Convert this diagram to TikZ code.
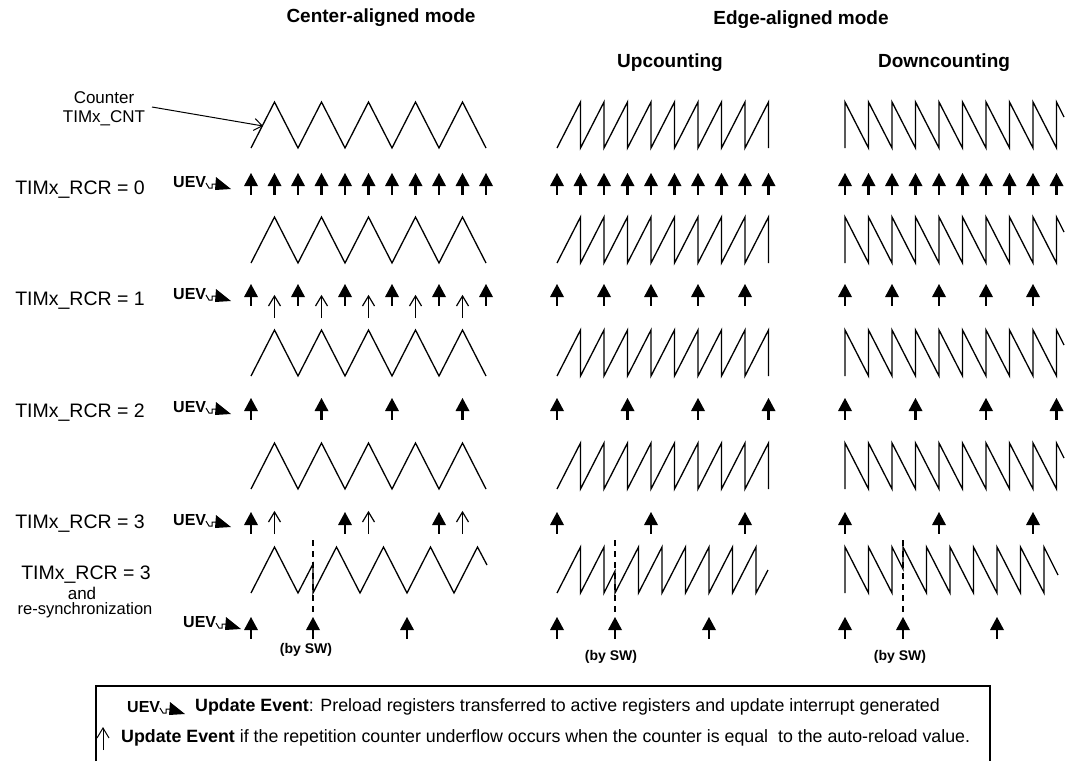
\documentclass[tikz,border=0pt]{standalone}
\usepackage{fontspec}
\setmainfont{Liberation Sans}
\usetikzlibrary{arrows.meta}
\begin{document}
\begin{tikzpicture}[x=1pt,y=-1pt,
  wave/.style={line width=1.3pt,line join=miter},
  ttl/.style={font=\fontsize{19}{22}\selectfont\bfseries},
  lbl/.style={font=\fontsize{19.5}{22}\selectfont},
  sw/.style={font=\fontsize{14}{16}\selectfont\bfseries},
  leg/.style={font=\fontsize{17.8}{20}\selectfont,anchor=west,inner sep=0pt}]
\useasboundingbox (0,0) rectangle (1068,761);
\newcommand{\farr}[2]{\fill (#1-7,#2+13) -- (#1+7,#2+13) -- (#1,#2) -- cycle;
  \draw[line width=2.2pt] (#1,#2+10) -- (#1,#2+22);}
\newcommand{\oarr}[2]{\draw[line width=1.2pt] (#1,#2+22) -- (#1,#2);
  \draw[line width=1.2pt] (#1-6,#2+10) -- (#1,#2) -- (#1+6,#2+10);}
\newcommand{\uevsym}[2]{\node[anchor=west,inner sep=0pt,font=\fontsize{16}{18}\selectfont\bfseries] at (#1,#2) {UEV};
  \draw[line width=1pt] (#1+33,#2+1) -- (#1+36,#2+6) -- (#1+39,#2+6) -- (#1+39,#2+2) -- (#1+43,#2+2);
  \fill (#1+43,#2-5) -- (#1+42,#2+8) -- (#1+58,#2+7) -- cycle;}
% titles
\node[ttl] at (381,18) {Center-aligned mode};
\node[ttl] at (801,20) {Edge-aligned mode};
\node[ttl] at (670,63) {Upcounting};
\node[ttl] at (944,63) {Downcounting};
% counter label
\node[font=\fontsize{17}{19}\selectfont] (cnt) at (104,98) {Counter};
\node[font=\fontsize{17}{19}\selectfont] (cnt2) at (104,118) {TIMx\_CNT};
\coordinate (cntend) at (263,126);
\draw[line width=1pt,-{Straight Barb[length=8pt,width=12pt]}] (152,107) -- (cntend);
% left labels
\node[lbl] at (80,190) {TIMx\_RCR = 0};
\node[lbl] at (80,301) {TIMx\_RCR = 1};
\node[lbl] at (80,413) {TIMx\_RCR = 2};
\node[lbl] at (80,524) {TIMx\_RCR = 3};
\node[lbl] at (86,575) {TIMx\_RCR = 3};
\node[font=\fontsize{17}{19}\selectfont] at (82,593) {and};
\node[font=\fontsize{16.5}{19}\selectfont] at (85,610) {re-synchronization};
% UEV labels
\uevsym{173}{182}
\uevsym{173}{294}
\uevsym{173}{407}
\uevsym{173}{520}
\uevsym{183}{622}
% regular waves rows 1-4
\foreach \T in {102,217,330,443}{
  \pgfmathsetmacro{\B}{\T+46}
  \draw[wave] (251,\B) foreach \k in {0,...,4}{ -- ({274.5+47*\k},\T) -- ({298+47*\k},\B) };
  \draw[wave] (557,\B) foreach \k in {0,...,8}{ -- ({580.5+23.5*\k},\T) -- ({580.5+23.5*\k},\B) };
  \draw[wave] (845,\B) -- (845,\T) foreach \k in {0,...,8}{ -- ({868.5+23.5*\k},\B) -- ({868.5+23.5*\k},\T) } -- (1064,\T+15);
}
% RCR=0 arrows
\foreach \k in {0,...,10}{ \farr{251+23.5*\k}{173} }
\foreach \k in {0,...,9}{ \farr{557+23.5*\k}{173} \farr{845+23.5*\k}{173} }
% RCR=1
\foreach \k in {0,...,5}{ \farr{251+47*\k}{284} }
\foreach \k in {0,...,4}{ \oarr{274.5+47*\k}{296} \farr{557+47*\k}{284} \farr{845+47*\k}{284} }
% RCR=2
\foreach \k in {0,...,3}{ \farr{251+70.5*\k}{398} \farr{557+70.5*\k}{398} \farr{845+70.5*\k}{398} }
% RCR=3
\foreach \k in {0,...,2}{ \farr{251+94*\k}{512} \oarr{274.5+94*\k}{512} \farr{557+94*\k}{512} \farr{845+94*\k}{512} }
% resync row
\draw[wave] (251,593) -- (274.5,547) -- (298,593) -- (313,564) -- (313,593)
  foreach \k in {0,...,2}{ -- ({336.5+47*\k},547) -- ({360+47*\k},593) } -- (477.5,547) -- (487,565);
\draw[wave] (557,593) -- (580.5,547) -- (580.5,593) -- (604,547) -- (604,593) -- (615,571) -- (615,593)
  foreach \k in {0,...,5}{ -- ({638.5+23.5*\k},547) -- ({638.5+23.5*\k},593) } -- (768,570);
\draw[wave] (845,593) -- (845,547) -- (868.5,593) -- (868.5,547) -- (892,593) -- (892,547) -- (903,569) -- (903,547)
  foreach \k in {0,...,5}{ -- ({926.5+23.5*\k},593) -- ({926.5+23.5*\k},547) } -- (1058,575);
\foreach \x in {313,615,903}{ \draw[line width=1.5pt,dash pattern=on 6pt off 5pt] (\x,540) -- (\x,616); }
\farr{251}{617} \farr{313}{617} \farr{407}{617}
\farr{557}{617} \farr{615}{617} \farr{709}{617}
\farr{845}{617} \farr{903}{617} \farr{997}{617}
\node[sw] at (306,650) {(by SW)};
\node[sw] at (611,657) {(by SW)};
\node[sw] at (900,657) {(by SW)};
% legend
\draw[line width=1.8pt] (96,761) -- (96,686) -- (990,686) -- (990,761);
\uevsym{127}{707}
\node[leg] at (195,707) {\textbf{Update Event}: Preload registers transferred to active registers and update interrupt generated};
\draw[line width=1pt] (103,750) -- (103,728);
\draw[line width=1pt] (97,738) -- (103,728) -- (109,738);
\node[leg] at (121,738) {\textbf{Update Event} if the repetition counter underflow occurs when the counter is equal\ \ to the auto-reload value.};
\end{tikzpicture}
\end{document}
